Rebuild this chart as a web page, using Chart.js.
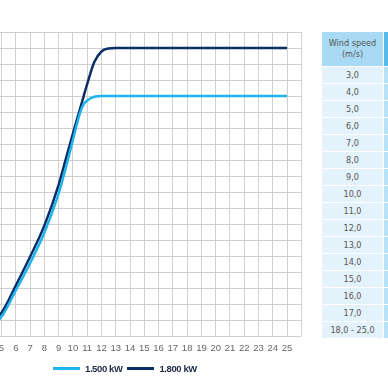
<!DOCTYPE html>
<html>
<head>
<meta charset="utf-8">
<script src="https://cdn.jsdelivr.net/npm/chart.js@4"></script>
<style>
  body { margin: 0; width: 388px; height: 388px; overflow: hidden; position: relative; background: #fff; }
  #powerCurve { position: absolute; left: -90px; top: 0; }
  #legend { position: absolute; left: 53px; top: 363px; display: flex; align-items: center;
    font: bold 9.5px "Liberation Sans", Arial, sans-serif; letter-spacing: -0.4px; color: #1c2a48; }
  #legend .item { display: flex; align-items: center; margin-right: 5px; }
  #legend .sw { width: 27px; height: 3px; margin-right: 5px; }
  #table { position: absolute; left: 322px; top: 32px; width: 80px;
    font: 9px "Liberation Sans Narrow", "DejaVu Sans Condensed", sans-serif; color: #555; }
  #table .row { display: flex; margin-bottom: 1px; }
  #table .c1 { width: 61px; text-align: center; background: #e4f2fb; height: 16px; line-height: 16px; }
  #table .c2 { width: 18px; margin-left: 1px; background: #b7e1f6; }
  #table .head .c1 { background: #a9daf3; height: 34px; line-height: 11px; padding-top: 6px; box-sizing: border-box; }
  #table .head .c2 { background: #55bcea; }
</style>
</head>
<body>
<canvas id="powerCurve" width="400" height="388"></canvas>
<div id="legend"></div>
<div id="table"></div>
<script>
const windSpeeds = [3, 4, 5, 6, 7, 8, 9, 9.5, 10, 10.5, 10.75, 11, 11.5, 12, 12.5, 13, 14, 15, 16, 17, 18, 19, 20, 21, 22, 23, 24, 25];
const power1500 = [15, 50, 120, 285, 455, 645, 890, 1050, 1225, 1395, 1447, 1472, 1495, 1500, 1500, 1500, 1500, 1500, 1500, 1500, 1500, 1500, 1500, 1500, 1500, 1500, 1500, 1500];
const power1800 = [20, 60, 145, 315, 495, 690, 945, 1105, 1265, 1420, 1498, 1575, 1712, 1778, 1797, 1800, 1800, 1800, 1800, 1800, 1800, 1800, 1800, 1800, 1800, 1800, 1800, 1800];
const seriesNames = ["1.500 kW", "1.800 kW"];
const seriesColors = ["#1db4ec", "#0b2e66"];
const tableHeader = ["Wind speed", "(m/s)"];
const tableSpeeds = ["3,0", "4,0", "5,0", "6,0", "7,0", "8,0", "9,0", "10,0", "11,0", "12,0", "13,0", "14,0", "15,0", "16,0", "17,0", "18,0 - 25,0"];

function toPoints(values) {
  return windSpeeds.map((x, i) => ({ x: x, y: values[i] }));
}

const ctx = document.getElementById("powerCurve");
new Chart(ctx, {
  type: "line",
  data: {
    datasets: [
      {
        label: seriesNames[0],
        data: toPoints(power1500),
        borderColor: seriesColors[0],
        borderWidth: 2.5,
        pointRadius: 0,
        cubicInterpolationMode: "monotone",
        fill: false,
      },
      {
        label: seriesNames[1],
        data: toPoints(power1800),
        borderColor: seriesColors[1],
        borderWidth: 2.5,
        pointRadius: 0,
        cubicInterpolationMode: "monotone",
        fill: false,
      },
    ],
  },
  options: {
    responsive: false,
    animation: false,
    layout: { padding: { left: 20.1, right: 8.6, top: 32, bottom: 26.6 } },
    plugins: { legend: { display: false }, tooltip: { enabled: false } },
    scales: {
      x: {
        type: "linear",
        min: 0,
        max: 26,
        ticks: {
          stepSize: 1,
          padding: 7,
          color: "#666",
          font: { family: "'Liberation Sans', Arial, sans-serif", size: 9.5 },
          maxRotation: 0,
          autoSkip: false,
          callback: (v) => (v <= 25 ? String(v) : ""),
        },
        grid: { color: "#d0d0d0", drawTicks: false },
        border: { display: false },
      },
      y: {
        min: 0,
        max: 1900,
        ticks: { stepSize: 100, display: false },
        grid: { color: "#d0d0d0", drawTicks: false },
        border: { display: false },
      },
    },
  },
});

// legend
const legend = document.getElementById("legend");
seriesNames.forEach((name, i) => {
  const item = document.createElement("div");
  item.className = "item";
  item.innerHTML = '<span class="sw" style="background:' + seriesColors[i] + '"></span><span>' + name + "</span>";
  legend.appendChild(item);
});

// wind speed table
const table = document.getElementById("table");
let html = '<div class="row head"><div class="c1">' + tableHeader.join("<br>") + '</div><div class="c2"></div></div>';
tableSpeeds.forEach((s) => {
  html += '<div class="row"><div class="c1">' + s + '</div><div class="c2"></div></div>';
});
table.innerHTML = html;
</script>
</body>
</html>
